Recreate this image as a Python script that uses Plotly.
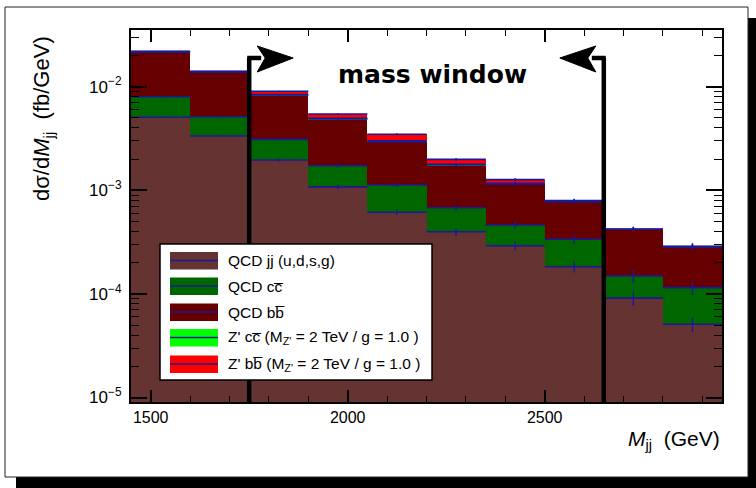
import plotly.graph_objects as go

# ---------------- data ----------------
bin_lo = [1450, 1600, 1750, 1900, 2050, 2200, 2350, 2500, 2650, 2800]
bin_width = 150
qcd_jj = [5.07e-3, 3.34e-3, 1.96e-3, 1.08e-3, 6.14e-4, 3.98e-4, 2.92e-4, 1.83e-4, 9.1e-5, 5.1e-5]
qcd_cc = [2.93e-3, 1.79e-3, 1.14e-3, 6.44e-4, 5.11e-4, 2.81e-4, 1.70e-4, 1.54e-4, 5.8e-5, 6.4e-5]
qcd_bb = [1.38e-2, 8.83e-3, 5.21e-3, 3.15e-3, 1.82e-3, 1.075e-3, 6.9e-4, 4.39e-4, 2.72e-4, 1.71e-4]
zp_cc = [0.0, 1.0e-5, 8.0e-5, 7.0e-5, 6.0e-5, 3.0e-5, 1.5e-5, 4.0e-6, 0.0, 0.0]
zp_bb = [0.0, 4.0e-5, 6.4e-4, 5.1e-4, 4.7e-4, 2.06e-4, 1.0e-4, 1.6e-5, 0.0, 0.0]
# relative statistical uncertainties on each stacked layer top
jj_relerr = [0.01, 0.015, 0.035, 0.05, 0.06, 0.09, 0.10, 0.12, 0.16, 0.16]
cc_relerr = [0.01, 0.015, 0.03, 0.045, 0.05, 0.06, 0.08, 0.10, 0.14, 0.15]
bb_relerr = [0.005, 0.01, 0.015, 0.02, 0.025, 0.035, 0.045, 0.05, 0.06, 0.08]
zp_relerr = [0.004, 0.008, 0.012, 0.015, 0.02, 0.03, 0.035, 0.04, 0.05, 0.06]
mass_window = [1750, 2650]
x_range = [1450, 2950]
y_tickvals = [1e-5, 1e-4, 1e-3, 1e-2]
y_ticktext = ["10<sup>\u22125</sup>", "10<sup>\u22124</sup>", "10<sup>\u22123</sup>", "10<sup>\u22122</sup>"]

names = ["QCD jj (u,d,s,g)", "QCD cc\u0305", "QCD bb\u0305", "Z' cc\u0305", "Z' bb\u0305"]
legend_text = ["QCD jj (u,d,s,g)", "QCD cc\u0305", "QCD bb\u0305",
               "Z' cc\u0305 (M<sub>Z'</sub> = 2 TeV / g = 1.0 )",
               "Z' bb\u0305 (M<sub>Z'</sub> = 2 TeV / g = 1.0 )"]
colors = ["#663333", "#006600", "#660000", "#00ff00", "#ff0000"]
line_blue = "#1a1a99"

# ---------------- geometry ----------------
W, H = 756, 488
L, R, T, B = 131, 34, 30, 86
PW, PH = W - L - R, H - T - B


def px(xp):
    return (xp - L) / PW


def py(yp):
    return (H - B - yp) / PH


def dx(v):
    return (v - x_range[0]) / (x_range[1] - x_range[0])


centers = [lo + bin_width / 2 for lo in bin_lo]
layers = [qcd_jj, qcd_cc, qcd_bb, zp_cc, zp_bb]
errs = [jj_relerr, cc_relerr, bb_relerr, zp_relerr, zp_relerr]

fig = go.Figure()
for vals, name, col in zip(layers, names, colors):
    fig.add_trace(go.Bar(x=centers, y=vals, width=[bin_width] * len(vals), name=name,
                         marker=dict(color=col, line=dict(width=0)), showlegend=False))

cum = [0.0] * len(bin_lo)
for vals, rel in zip(layers, errs):
    cum = [c + v for c, v in zip(cum, vals)]
    fig.add_trace(go.Scatter(
        x=centers, y=cum, mode="markers", marker=dict(size=1, color=line_blue),
        error_x=dict(type="constant", value=bin_width / 2, width=0, thickness=1.6, color=line_blue),
        error_y=dict(type="data", array=[c * r for c, r in zip(cum, rel)], width=0,
                     thickness=1.4, color=line_blue),
        showlegend=False, hoverinfo="skip"))

shapes = []
# canvas shadow and box
shapes.append(dict(type="rect", xref="paper", yref="paper", x0=px(16), x1=px(770),
                   y0=py(498), y1=py(18), fillcolor="black", line=dict(width=0), layer="below"))
shapes.append(dict(type="rect", xref="paper", yref="paper", x0=px(5), x1=px(748),
                   y0=py(477), y1=py(7), fillcolor="white", line=dict(color="#222", width=1),
                   layer="below"))

# mass window arrows
ytop = py(58)
for i, xv in enumerate(mass_window):
    xp = L + dx(xv) * PW
    s = 1 if i == 0 else -1
    shapes.append(dict(type="line", xref="paper", yref="paper", x0=px(xp), x1=px(xp),
                       y0=0, y1=ytop, line=dict(color="black", width=4.5)))
    shapes.append(dict(type="line", xref="paper", yref="paper", x0=px(xp - s * 2), x1=px(xp + s * 12),
                       y0=ytop, y1=ytop, line=dict(color="black", width=4.5)))
    path = "M {:.5f},{:.5f} L {:.5f},{:.5f} L {:.5f},{:.5f} L {:.5f},{:.5f} Z".format(
        px(xp + s * 8), py(46), px(xp + s * 44), py(58), px(xp + s * 8), py(72),
        px(xp + s * 16), py(58))
    shapes.append(dict(type="path", xref="paper", yref="paper", path=path,
                       fillcolor="black", line=dict(color="black", width=1)))

# legend
shapes.append(dict(type="rect", xref="paper", yref="paper", x0=px(160), x1=px(432),
                   y0=py(380), y1=py(244), fillcolor="white", line=dict(color="black", width=1.5)))
annotations = []
row_y = [260.5, 286, 312, 337.5, 364]
for yc, col, txt in zip(row_y, colors, legend_text):
    shapes.append(dict(type="rect", xref="paper", yref="paper", x0=px(170), x1=px(218),
                       y0=py(yc + 9), y1=py(yc - 8.5), fillcolor=col, line=dict(width=0)))
    shapes.append(dict(type="line", xref="paper", yref="paper", x0=px(170), x1=px(218),
                       y0=py(yc), y1=py(yc), line=dict(color=line_blue, width=1.5)))
    annotations.append(dict(xref="paper", yref="paper", x=px(226), y=py(yc), text=txt,
                            showarrow=False, xanchor="left", yanchor="middle",
                            font=dict(family="Liberation Sans", size=15.5, color="black")))

annotations.append(dict(xref="paper", yref="paper", x=px(432), y=py(74), text="<b>mass window</b>",
                        showarrow=False, xanchor="center", yanchor="middle",
                        font=dict(family="DejaVu Sans", size=25, color="black")))
annotations.append(dict(xref="paper", yref="paper", x=px(43), y=py(119),
                        text="d\u03c3/d<i>M</i><sub>jj</sub>  (fb/GeV)", textangle=-90,
                        showarrow=False, xanchor="center", yanchor="middle",
                        font=dict(family="Liberation Sans", size=22, color="black")))
annotations.append(dict(xref="paper", yref="paper", x=1.0, y=py(440),
                        text="<i>M</i><sub>jj</sub>  (GeV)",
                        showarrow=False, xanchor="right", yanchor="middle",
                        font=dict(family="Liberation Sans", size=21, color="black")))

fig.update_layout(
    width=W, height=H, autosize=False,
    margin=dict(l=L, r=R, t=T, b=B, pad=0),
    paper_bgcolor="white", plot_bgcolor="white",
    barmode="stack", bargap=0,
    shapes=shapes, annotations=annotations, showlegend=False,
    xaxis=dict(range=x_range, showgrid=False, zeroline=False, showline=True, linecolor="black",
               linewidth=2, mirror="allticks", ticks="inside", ticklen=12, tickwidth=1.5,
               tickcolor="black", tick0=1500, dtick=500,
               minor=dict(ticks="inside", ticklen=6, tickwidth=1.2, tickcolor="black", dtick=100,
                          showgrid=False),
               tickfont=dict(family="Liberation Sans", size=16, color="black")),
    yaxis=dict(type="log", range=[-5.043, -1.453], showgrid=False, zeroline=False, showline=True,
               linecolor="black", linewidth=2, mirror="allticks", ticks="inside", ticklen=16,
               tickwidth=1.5, tickcolor="black", tickvals=y_tickvals, ticktext=y_ticktext,
               minor=dict(ticks="inside", ticklen=8, tickwidth=1.2, tickcolor="black", dtick="D1",
                          showgrid=False),
               ticklabelstandoff=4,
               tickfont=dict(family="Liberation Sans", size=17, color="black")),
)

fig.write_html("out.html", config={"displayModeBar": False},
               post_script="document.body.style.margin='0';document.body.style.overflow='hidden';")
